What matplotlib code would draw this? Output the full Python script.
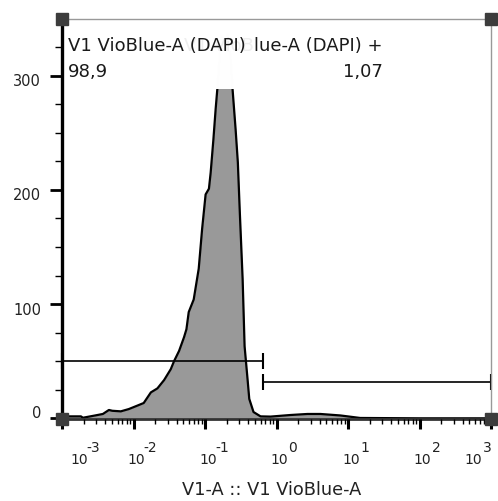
import numpy as np
import matplotlib
matplotlib.use('Agg')
import matplotlib.pyplot as plt
from matplotlib.ticker import MultipleLocator, LogLocator, NullFormatter, FixedLocator

plt.rcParams['font.family'] = ['DejaVu Sans']

# ---- data ----
channel = [0.001, 0.00114, 0.00184, 0.00196, 0.0028, 0.00373, 0.00453, 0.00505, 0.00665,
           0.0086, 0.0112, 0.0139, 0.0175, 0.0216, 0.0268, 0.0332, 0.0369, 0.0434, 0.0509,
           0.055, 0.0592, 0.0695, 0.0817, 0.0912, 0.102, 0.1135, 0.12, 0.131, 0.141, 0.1486,
           0.160, 0.171, 0.188, 0.207, 0.228, 0.243, 0.268, 0.288, 0.307, 0.336, 0.358, 0.394,
           0.416, 0.477, 0.598, 0.824, 1.57, 2.71, 4.11, 7.82, 14.8, 100, 1000]
count = [1.7, 1.7, 1.7, 0.5, 2.3, 3.8, 7.3, 6.6, 6.1, 8.1, 11, 13.4, 22.7, 26.2, 33.5, 43,
         50, 59, 71, 78, 93, 104, 131, 166, 196, 201, 215, 244, 271, 288, 314, 334, 327, 336,
         314, 288, 253, 224, 180, 122, 63, 34, 17, 5.5, 1.7, 1.5, 2.9, 3.8, 3.8, 2.5, 0.3, 0, 0]

gate_neg_x = [0.001, 0.65]
gate_neg_y = 50
gate_pos_x = [0.65, 1000]
gate_pos_y = 32

gate_neg_label = "V1 VioBlue-A (DAPI)\n98,9"
gate_pos_label = "V1 VioBlue-A (DAPI) +\n1,07"

xtick_exponents = [-3, -2, -1, 0, 1, 2, 3]
yticks = [0, 100, 200, 300]
xlabel = "V1-A :: V1 VioBlue-A"

# ---- figure ----
fig = plt.figure(figsize=(4.98, 5.02), dpi=100)
ax = fig.add_axes([62/498, 1 - 420/502, 429/498, 400/502])

ax.set_xscale('log')
ax.set_xlim(1e-3, 1e3)
ax.set_ylim(-0.6, 349.6)

ax.fill_between(channel, count, 0, color='#999999', linewidth=0, zorder=1)
ax.plot(channel, count, color='black', linewidth=1.6, zorder=2)

# gates
ax.plot(gate_neg_x, [gate_neg_y]*2, color='black', linewidth=1.2, marker='|',
        markersize=11, markeredgewidth=1.5, clip_on=False, zorder=3)
ax.plot(gate_pos_x, [gate_pos_y]*2, color='black', linewidth=1.2, marker='|',
        markersize=11, markeredgewidth=1.5, clip_on=False, zorder=3)

# gate labels
ax.text(0.748, 0.958, gate_pos_label, transform=ax.transAxes, ha='right', va='top',
        multialignment='right', fontsize=13, color='#1a1a1a', linespacing=1.6,
        bbox=dict(boxstyle='square,pad=0.5', facecolor='white', edgecolor='none', alpha=0.93),
        zorder=4)
ax.text(0.014, 0.958, gate_neg_label, transform=ax.transAxes, ha='left', va='top',
        fontsize=13, color='#1a1a1a', linespacing=1.6,
        bbox=dict(boxstyle='square,pad=0.5', facecolor='white', edgecolor='none', alpha=0.93),
        zorder=5)

# spines
for s in ['top', 'right']:
    ax.spines[s].set_color('#999999')
    ax.spines[s].set_linewidth(1.0)
ax.spines['left'].set_color('black')
ax.spines['left'].set_linewidth(2.4)
ax.spines['bottom'].set_color('#333333')
ax.spines['bottom'].set_linewidth(2.0)
for s in ax.spines.values():
    s.set_zorder(6)
ax.xaxis.set_zorder(6)
ax.yaxis.set_zorder(6)

# corner squares
ax.plot([0, 1, 1, 0], [1, 1, 0, 0], 's', transform=ax.transAxes, clip_on=False,
        markersize=8.6, color='#3c3c3c', zorder=10)

# x ticks
ax.xaxis.set_major_locator(FixedLocator([10.0**e for e in xtick_exponents]))
ax.xaxis.set_minor_locator(LogLocator(base=10, subs=np.arange(2, 10), numticks=50))
ax.xaxis.set_major_formatter(NullFormatter())
ax.xaxis.set_minor_formatter(NullFormatter())
ax.tick_params(axis='x', which='major', direction='out', length=7.5, width=2.2, color='black')
ax.tick_params(axis='x', which='minor', direction='out', length=3.8, width=1.0, color='black')

n = len(xtick_exponents)
for i, e in enumerate(xtick_exponents):
    if i == 0:
        dx = 17.5
    elif i == n - 1:
        dx = -17.5
    else:
        dx = 3
    ax.annotate("10", xy=(10.0**e, 0), xycoords=('data', 'axes fraction'),
                xytext=(dx, -40.5), textcoords='offset pixels', ha='center', va='center',
                fontsize=10, color='#222222', annotation_clip=False)
    exp_txt = ("-%d" % abs(e)) if e < 0 else "%d" % e
    ax.annotate(exp_txt, xy=(10.0**e, 0), xycoords=('data', 'axes fraction'),
                xytext=(dx + 9 - (2 if e < 0 else 0), -28), textcoords='offset pixels',
                ha='left', va='center', fontsize=10, color='#222222', annotation_clip=False)

# y ticks
ax.yaxis.set_major_locator(FixedLocator(yticks))
ax.yaxis.set_minor_locator(MultipleLocator(25))
ax.yaxis.set_major_formatter(NullFormatter())
ax.tick_params(axis='y', which='major', direction='out', length=9, width=2.0, color='black')
ax.tick_params(axis='y', which='minor', direction='out', length=5, width=1.0, color='black')
for v in yticks:
    dy = 6 if v == 0 else -5
    ax.annotate(str(v), xy=(0, v), xycoords=('axes fraction', 'data'),
                xytext=(-21, dy), textcoords='offset pixels', ha='right', va='center',
                fontsize=10.5, color='#222222', annotation_clip=False)

ax.set_xlabel(xlabel, fontsize=12.8, color='#222222', va='top')
ax.xaxis.set_label_coords(0.4895, -0.153)

fig.savefig('out.png', dpi=100)
